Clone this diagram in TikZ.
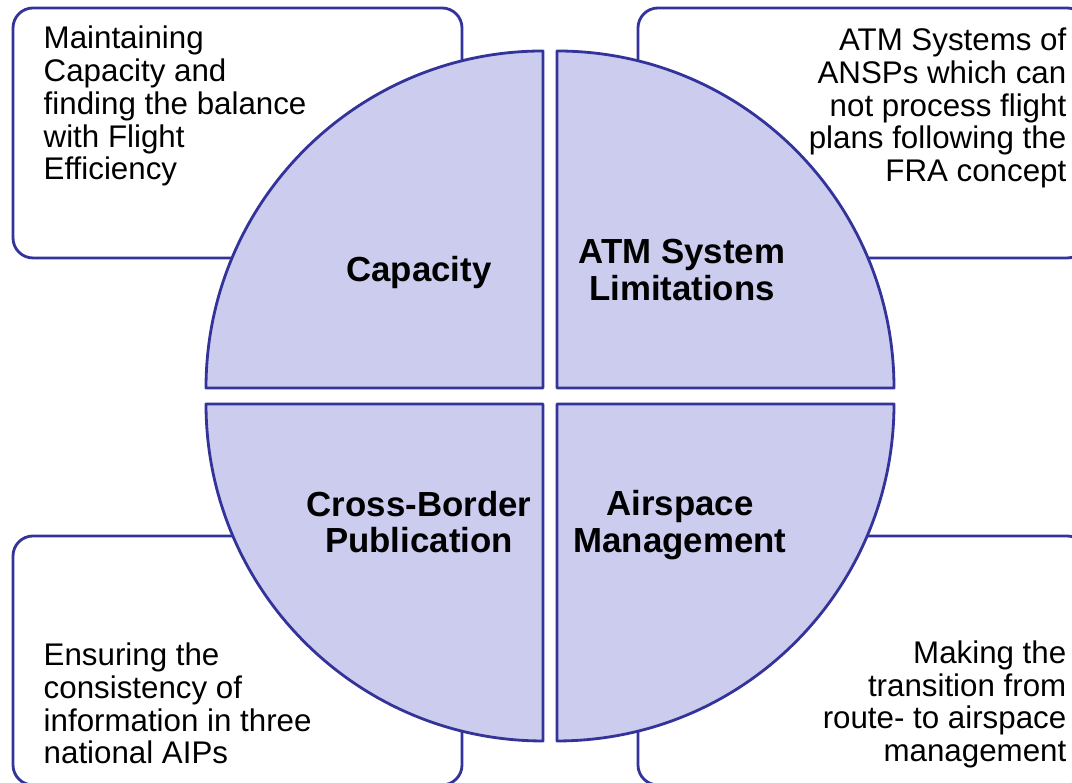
\documentclass[tikz,border=0pt]{standalone}
\usepackage{fontspec}
\setmainfont{Liberation Sans}
\usepackage{tikz}
\usetikzlibrary{positioning}
\definecolor{rimblue}{RGB}{51,51,153}
\definecolor{lavender}{RGB}{204,204,238}

\begin{document}
\begin{tikzpicture}[x=0.01cm, y=0.01cm,
    infobox/.style={draw=rimblue, line width=0.8pt, rounded corners=0.2cm},
    quarter/.style={draw=rimblue, fill=lavender, line width=0.8pt, line join=round},
    note/.style={inner sep=0pt, font=\fontsize{8.9}{9.35}\selectfont},
    topic/.style={inner sep=0pt, align=center, font=\fontsize{9.9}{10.3}\selectfont\bfseries}]
    \useasboundingbox (0, 0) rectangle (1072, 783);

    % Corner boxes
    \draw[infobox] (13, 525) rectangle (462, 775);
    \draw[infobox] (638, 525) rectangle (1087, 775);
    \draw[infobox] (13, -2) rectangle (462, 247);
    \draw[infobox] (638, -2) rectangle (1087, 247);

    % Quarter discs
    \draw[quarter] (543, 395) -- ++(-337, 0) arc (180:90:337) -- cycle;
    \draw[quarter] (557, 395) -- ++(0, 337) arc (90:0:337) -- cycle;
    \draw[quarter] (543, 379) -- ++(0, -337) arc (270:180:337) -- cycle;
    \draw[quarter] (557, 379) -- ++(337, 0) arc (0:-90:337) -- cycle;

    % Topics
    \node[topic] (capacity) at (419, 510) {Capacity};
    \node[topic] (atm) at (682, 513) {ATM System\\Limitations};
    \node[topic] (border) at (419, 261) {Cross-Border\\Publication};
    \node[topic] (airspace) at (680, 258) {Airspace\\Management};

    % Notes
    \node[note, align=left, anchor=north west] (capnote) at (43, 758) {Maintaining\\Capacity and\\finding the balance\\with Flight\\Efficiency};
    \node[note, align=right, anchor=north east] (atmnote) at (1067, 756) {ATM Systems of\\ANSPs which can\\not process flight\\plans following the\\FRA concept};
    \node[note, align=left, anchor=south west] (bordernote) at (43, 18) {Ensuring the\\consistency of\\information in three\\national AIPs};
    \node[note, align=right, anchor=south east] (airspacenote) at (1067, 14) {Making the\\transition from\\route- to airspace\\management};
\end{tikzpicture}
\end{document}
